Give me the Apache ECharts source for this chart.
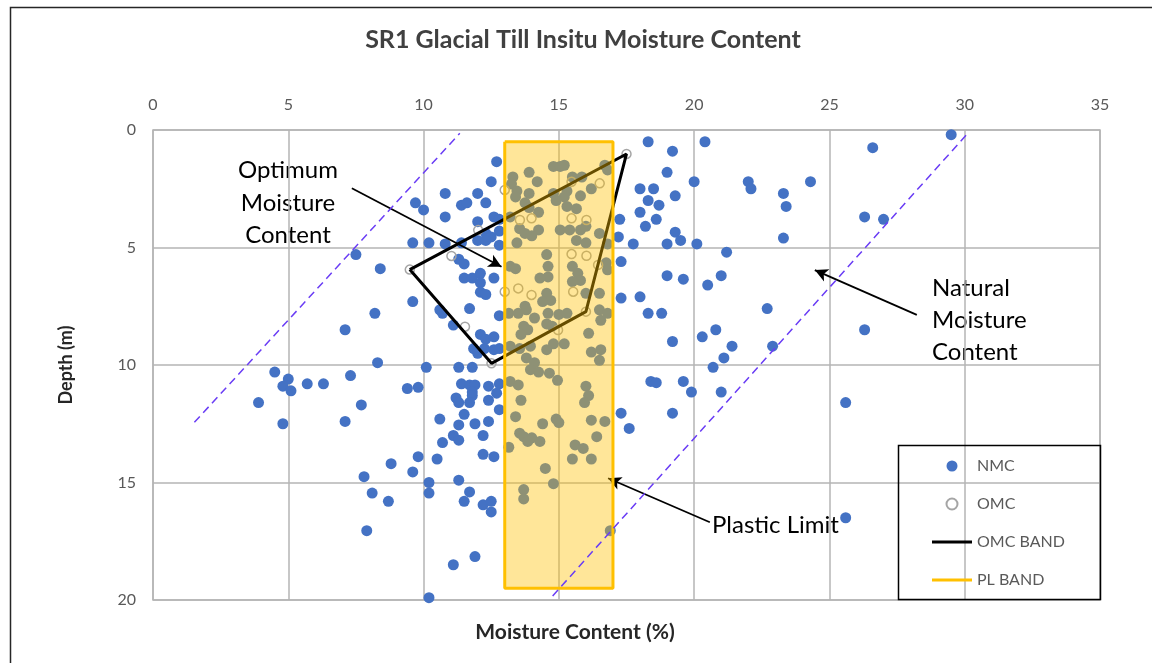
<!DOCTYPE html>
<html>
<head>
<meta charset="utf-8">
<script src="https://cdn.jsdelivr.net/npm/echarts@6/dist/echarts.min.js"></script>
<style>html,body{margin:0;padding:0;background:#fff}#c{width:1152px;height:663px}</style>
</head>
<body>
<div id="c"></div>
<script>
const chartTitle = 'SR1 Glacial Till Insitu Moisture Content';
const xName = 'Moisture Content (%)';
const yName = 'Depth (m)';
const xMin = 0, xMax = 35, xStep = 5;
const yMin = 0, yMax = 20, yStep = 5;
const legendNames = ['NMC', 'OMC', 'OMC BAND', 'PL BAND'];

const nmcPoints = [
[10.8,2.7],[9.7,3.1],[10.0,3.4],[12.0,2.7],[11.4,3.2],[11.6,3.1],[12.3,3.1],[10.8,3.7],[12.0,3.9],[12.7,1.35],[12.5,2.2],[12.6,3.7],[12.8,3.8],[12.3,4.4],[12.5,4.55],[12.8,4.3],[12.8,4.9],
[9.6,4.8],[10.2,4.8],[10.8,4.85],[11.4,4.8],[12.0,4.7],[12.3,4.7],
[11.3,5.5],[11.5,5.7],[7.5,5.3],[8.4,5.9],
[11.5,6.3],[11.8,6.3],[12.1,6.1],[12.1,6.5],[12.6,6.3],
[12.1,6.9],[12.3,7.0],[9.6,7.3],[8.2,7.8],[7.1,8.5],[10.6,7.65],[10.7,7.8],[11.7,7.6],[11.1,8.3],[12.8,7.9],
[12.1,8.7],[12.3,8.9],[12.6,8.8],[11.85,9.3],[12.25,9.3],[12.6,9.35],[12.8,9.3],[12.0,9.5],
[8.3,9.9],[10.1,10.1],[11.3,10.1],[11.8,10.1],[4.5,10.3],
[5.0,10.6],[4.8,10.9],[5.1,11.1],[5.7,10.8],[6.3,10.8],[7.3,10.45],[3.9,11.6],[4.8,12.5],[7.1,12.4],[7.7,11.7],[9.4,11.0],[9.8,10.95],
[11.4,10.8],[11.7,10.85],[11.9,10.85],[11.8,11.15],[11.8,11.3],[11.2,11.4],[11.3,11.6],[11.7,11.6],[12.4,10.9],[12.8,10.8],[12.7,11.2],[12.4,11.5],[12.8,11.9],[11.5,12.1],[10.6,12.3],[11.3,12.55],[11.9,12.5],[12.4,12.4],[11.1,13.0],[11.3,13.2],[12.2,13.0],[10.7,13.3],[12.2,13.8],[12.6,13.9],[10.5,14.0],[11.3,14.9],[10.2,15.0],[11.7,15.4],
[9.8,13.9],[9.6,14.55],[8.8,14.2],[7.8,14.75],[8.1,15.45],[8.7,15.8],[7.9,17.05],[10.2,15.45],[11.5,15.8],[12.2,15.95],[12.5,15.8],[12.5,16.25],[11.9,18.15],[11.1,18.5],[10.2,19.9],
[18.3,0.5],[19.2,0.9],[20.4,0.5],[19.0,1.8],[20.0,2.2],[22.0,2.2],[22.1,2.5],[24.3,2.2],[23.3,2.7],[23.4,3.25],[18.0,2.5],[18.5,2.5],[19.3,2.8],[18.3,3.0],[18.7,3.2],[18.0,3.5],[18.6,3.8],[18.2,4.1],[17.25,3.8],[19.3,4.35],[19.5,4.7],[19.0,4.85],[17.75,4.85],[20.1,4.85],[17.2,4.55],[23.3,4.6],[21.2,5.2],[17.3,5.6],[19.0,6.2],[19.6,6.35],[20.5,6.6],[21.0,6.2],[18.0,7.1],[17.3,7.15],[18.3,7.8],[18.8,7.8],[22.7,7.6],[19.2,9.0],[20.3,8.8],[20.8,8.5],[21.4,9.2],[21.1,9.7],[22.9,9.2],[20.7,10.1],[29.5,0.2],[26.6,0.75],[26.3,3.7],[27.0,3.8],[26.3,8.5],[25.6,11.6],[25.6,16.5],[18.4,10.7],[18.6,10.75],[19.6,10.7],[19.9,11.15],[21.0,11.15],[17.3,12.05],[17.6,12.7],[19.2,12.05],
[13.3,2.0],[13.25,2.3],[13.45,2.6],[13.9,1.8],[14.2,2.2],[13.9,2.7],[13.4,2.85],[13.75,3.1],[14.25,3.5],[13.2,3.7],[13.55,4.2],[13.75,4.4],[14.25,4.25],[13.45,4.8],[14.0,4.5],[13.9,3.3],
[14.8,1.55],[15.05,1.55],[15.2,1.5],[15.5,2.0],[15.85,2.0],[15.3,2.6],[15.2,2.85],[14.8,2.7],[14.9,3.0],[15.8,2.8],[16.2,2.5],[16.7,1.5],[16.8,1.7],[15.3,3.25],[15.65,3.35],[15.05,4.25],[15.4,4.25],[15.8,4.25],[16.0,4.1],[15.65,4.7],[16.0,4.8],[16.5,4.4],[16.8,4.85],
[13.2,5.8],[13.4,5.9],[14.55,5.3],[14.6,5.8],[14.6,6.25],[14.3,6.3],[14.55,6.95],[14.7,7.25],[14.4,7.3],[13.75,7.5],[13.8,7.65],[13.15,7.8],[13.5,7.8],[14.1,8.0],[14.6,7.8],[15.0,7.85],[15.3,7.8],[13.7,8.35],[13.85,8.5],[13.6,8.7],[14.55,8.25],[14.75,8.35],[13.2,9.2],[13.55,9.3],[13.95,9.2],[13.8,9.7],[14.1,9.9],[14.8,9.1],[15.2,9.1],[14.55,9.35],
[15.5,5.8],[15.7,6.1],[15.8,6.4],[15.5,6.45],[16.75,5.65],[16.8,5.95],[16.0,6.95],[16.5,6.95],[16.5,7.65],[16.55,8.1],[16.8,7.8],[16.1,8.65],[16.2,9.45],[16.55,9.35],[16.5,9.8],
[13.2,10.7],[13.5,10.85],[13.95,10.2],[14.25,10.3],[14.65,10.35],[14.95,10.65],[13.6,11.5],[13.4,12.2],[14.4,12.5],[14.9,12.3],[15.0,12.45],[13.55,12.9],[13.7,13.05],[14.0,13.1],[14.3,13.25],[13.85,13.25],[13.15,13.5],[14.5,14.4],[14.8,15.05],[13.7,15.3],[13.7,15.7],[16.0,10.9],[16.1,11.3],[15.95,11.6],[16.2,12.35],[16.7,12.4],[16.4,13.05],[15.6,13.4],[15.9,13.55],[15.5,14.0],[16.2,14.0],[16.9,17.05]
];

const omcPoints = [
[17.5,1.02],[13.0,2.55],[15.47,2.2],[16.51,2.27],[13.56,3.83],[13.99,3.76],[15.47,3.76],[16.02,3.83],[12.02,4.26],[11.03,5.36],[15.47,5.28],[16.02,5.35],[16.45,5.74],[9.49,5.94],[13.0,6.88],[13.5,6.74],[13.99,7.02],[15.53,6.88],[16.0,7.73],[11.53,8.37],[14.97,8.51],[12.51,9.93]
];

const omcBand = [[9.49,5.94],[17.5,1.02],[16.0,7.73],[12.51,9.93],[9.49,5.94]];
const plBand = [[13,0.5],[17,0.5],[17,19.5],[13,19.5],[13,0.5]];
const plBandBox = [[13,0.5,17,19.5]];
const guideLeft = [[1.53,12.44],[11.34,0.14]];
const guideRight = [[14.77,19.83],[30.06,0.21]];
// arrows: [tailX, tailY, tipX, tipY]
const arrowOptimum = [7.35,2.48,12.88,5.82];
const arrowNatural = [28.23,7.87,24.46,5.96];
const arrowPlastic = [20.58,16.69,16.82,14.82];

const FONT = 'Lato, "Open Sans", sans-serif';
const LINE_ICON = 'path://M0,0L40,0L40,3L0,3Z';
function arrowLine(a){ return [{coord:[a[0],a[1]]},{coord:[a[2],a[3]]}]; }

const chart = echarts.init(document.getElementById('c'));
chart.setOption({
  animation: false,
  backgroundColor: '#fff',
  textStyle: {fontFamily: FONT},
  grid: {left: 153, top: 130, right: 52, bottom: 63, show: true, borderColor: '#B4B4B4', borderWidth: 1.5, backgroundColor: 'transparent'},
  xAxis: {
    type: 'value', position: 'top', min: xMin, max: xMax, interval: xStep,
    axisLine: {show: false}, axisTick: {show: false},
    axisLabel: {color: '#595959', fontSize: 16, fontFamily: FONT, margin: 17},
    splitLine: {lineStyle: {color: '#B4B4B4', width: 1.5}}
  },
  yAxis: {
    type: 'value', inverse: true, min: yMin, max: yMax, interval: yStep,
    axisLine: {show: false}, axisTick: {show: false},
    axisLabel: {color: '#595959', fontSize: 16, fontFamily: FONT, margin: 17},
    splitLine: {lineStyle: {color: '#B4B4B4', width: 1.5}},
    name: yName, nameLocation: 'middle', nameRotate: 90, nameGap: 78,
    nameTextStyle: {fontWeight: 'bold', fontSize: 18, color: '#262626', fontFamily: FONT}
  },
  legend: {
    data: [
      {name: legendNames[0], icon: 'circle'},
      {name: legendNames[1], icon: 'circle'},
      {name: legendNames[2], icon: LINE_ICON},
      {name: legendNames[3], icon: LINE_ICON}
    ],
    orient: 'vertical', left: 927, top: 453,
    itemWidth: 40, itemHeight: 11, itemGap: 22,
    textStyle: {color: '#595959', fontSize: 16, fontFamily: FONT},
    selectedMode: false
  },
  series: [
    {name: 'NMC', type: 'scatter', data: nmcPoints, symbol: 'circle', symbolSize: 11, z: 2,
     itemStyle: {color: '#4472C4', opacity: 1}},
    {name: 'OMC', type: 'scatter', data: omcPoints, symbol: 'circle', symbolSize: 9, z: 3,
     itemStyle: {color: 'rgba(255,255,255,0)', borderColor: '#A5A5A5', borderWidth: 1.5, opacity: 1}},
    {name: 'OMC BAND', type: 'line', data: omcBand, symbol: 'none', z: 4,
     lineStyle: {color: '#000', width: 3}, itemStyle: {color: '#000'},
     markLine: {silent: true, z: 4, symbol: ['none', 'arrow'], symbolSize: [10, 13], label: {show: false},
       lineStyle: {color: '#000', width: 1.8, type: 'solid', opacity: 1},
       itemStyle: {color: '#000'},
       emphasis: {disabled: true},
       data: [arrowLine(arrowOptimum), arrowLine(arrowNatural), arrowLine(arrowPlastic)]}},
    {name: 'PL fill', type: 'custom', data: plBandBox, z: 6, silent: true,
     renderItem: function(params, api){
       const p1 = api.coord([api.value(0), api.value(1)]);
       const p2 = api.coord([api.value(2), api.value(3)]);
       return {type: 'rect', shape: {x: Math.min(p1[0],p2[0]), y: Math.min(p1[1],p2[1]), width: Math.abs(p2[0]-p1[0]), height: Math.abs(p2[1]-p1[1])},
               style: {fill: 'rgba(255,192,0,0.4)'}};
     }},
    {name: 'PL BAND', type: 'line', data: plBand, symbol: 'none', z: 7,
     lineStyle: {color: '#FFC000', width: 3}, itemStyle: {color: '#FFC000'}},
    {name: 'guideL', type: 'line', data: guideLeft, symbol: 'none', z: 8,
     lineStyle: {color: '#6A3DF5', width: 1.5, type: [8, 5]}},
    {name: 'guideR', type: 'line', data: guideRight, symbol: 'none', z: 8,
     lineStyle: {color: '#6A3DF5', width: 1.5, type: [8, 5]}}
  ],
  graphic: [
    {type: 'rect', silent: true, shape: {x: 10.5, y: 7.5, width: 1200, height: 700}, style: {fill: 'none', stroke: '#262626', lineWidth: 1.5}},
    {type: 'text', silent: true, x: 583, y: 40, style: {text: chartTitle, fontSize: 25, fontWeight: 'bold', fontFamily: FONT, fill: '#404040', align: 'center', verticalAlign: 'middle', textAlign: 'center', textVerticalAlign: 'middle'}},
    {type: 'text', silent: true, x: 575, y: 632, style: {text: xName, fontSize: 21, fontWeight: 'bold', fontFamily: FONT, fill: '#262626', align: 'center', verticalAlign: 'middle', textAlign: 'center', textVerticalAlign: 'middle'}},
    {type: 'text', silent: true, x: 288, y: 203, style: {text: 'Optimum\nMoisture\nContent', fontSize: 24, lineHeight: 32.5, fontFamily: FONT, fill: '#000', align: 'center', verticalAlign: 'middle', textAlign: 'center', textVerticalAlign: 'middle'}},
    {type: 'text', silent: true, x: 932, y: 320, style: {text: 'Natural\nMoisture\nContent', fontSize: 24, lineHeight: 32, fontFamily: FONT, fill: '#000', align: 'left', verticalAlign: 'middle', textAlign: 'left', textVerticalAlign: 'middle'}},
    {type: 'text', silent: true, x: 712, y: 525, style: {text: 'Plastic Limit', fontSize: 24, fontFamily: FONT, fill: '#000', align: 'left', verticalAlign: 'middle', textAlign: 'left', textVerticalAlign: 'middle'}},
    {type: 'rect', silent: true, z: 100, shape: {x: 898.5, y: 445.5, width: 202, height: 154}, style: {fill: 'none', stroke: '#000', lineWidth: 1.5}}
  ]
});
</script>
</body>
</html>
